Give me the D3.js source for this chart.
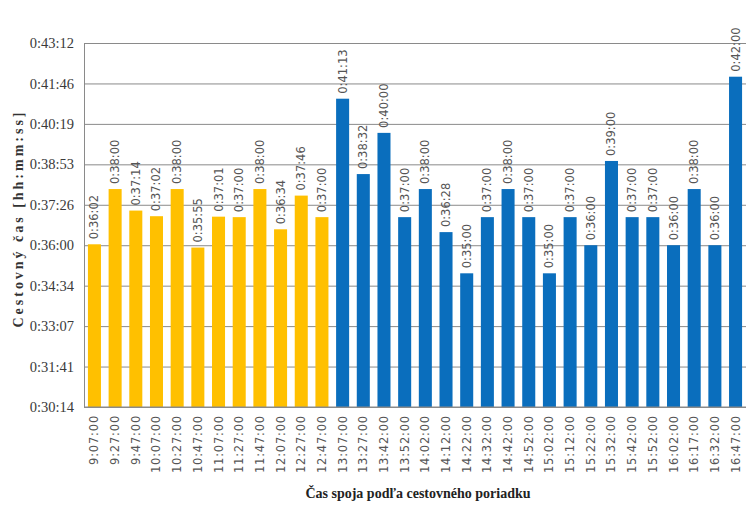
<!DOCTYPE html>
<html>
<head>
<meta charset="utf-8">
<script src="https://cdn.jsdelivr.net/npm/d3@7"></script>
<style>
  body { margin: 0; background: #fff; }
  svg { display: block; }
</style>
</head>
<body>
<div id="chart"></div>
<script>
// departure times (x categories)
const departures = ["9:07:00", "9:27:00", "9:47:00", "10:07:00", "10:27:00", "10:47:00",
    "11:07:00", "11:27:00", "11:47:00", "12:07:00", "12:27:00", "12:47:00",
    "13:07:00", "13:27:00", "13:42:00", "13:52:00", "14:02:00", "14:12:00", "14:22:00",
    "14:32:00", "14:42:00", "14:52:00", "15:02:00", "15:12:00", "15:22:00", "15:32:00",
    "15:42:00", "15:52:00", "16:02:00", "16:17:00", "16:32:00", "16:47:00"];

// travel times (yellow = morning group, blue = afternoon group)
const travelTimes = ["0:36:02", "0:38:00", "0:37:14", "0:37:02", "0:38:00", "0:35:55",
    "0:37:01", "0:37:00", "0:38:00", "0:36:34", "0:37:46", "0:37:00",
    "0:41:13", "0:38:32", "0:40:00", "0:37:00", "0:38:00", "0:36:28", "0:35:00",
    "0:37:00", "0:38:00", "0:37:00", "0:35:00", "0:37:00", "0:36:00", "0:39:00",
    "0:37:00", "0:37:00", "0:36:00", "0:38:00", "0:36:00", "0:42:00"];

const groupSize = 12; // first 12 bars are yellow

// y ticks in fractions of a day (Excel style)
const yTicksDays = [0.021, 0.022, 0.023, 0.024, 0.025, 0.026, 0.027, 0.028, 0.029, 0.030];

const colors = ["#ffc000", "#0a6ebd"];

function toSec(s) {
    let p = s.split(":").map(Number);
    return p[0] * 3600 + p[1] * 60 + p[2];
}
function fmt(sec) {
    let s = Math.round(sec);
    let h = Math.floor(s / 3600), m = Math.floor((s % 3600) / 60), ss = s % 60;
    return h + ":" + String(m).padStart(2, "0") + ":" + String(ss).padStart(2, "0");
}

let data = departures.map(function (d, i) {
    return { dep: d, label: travelTimes[i], value: toSec(travelTimes[i]), group: i < groupSize ? 0 : 1 };
});

let width = 746, height = 516;
let margin = { left: 84, right: 0, top: 43, bottom: 109 };

let svg = d3.select("#chart").append("svg")
    .attr("width", width)
    .attr("height", height);

let x = d3.scaleBand()
    .domain(departures)
    .range([margin.left, width - margin.right])
    .paddingInner(0.37)
    .paddingOuter(0.19);

let y = d3.scaleLinear()
    .domain([yTicksDays[0] * 86400, yTicksDays[yTicksDays.length - 1] * 86400])
    .range([height - margin.bottom, margin.top]);

// grid + left axis
let yAxis = d3.axisLeft(y)
    .tickValues(yTicksDays.map(function (d) { return d * 86400; }))
    .tickSize(-(width - margin.left - margin.right))
    .tickPadding(10)
    .tickFormat(fmt);

let gy = svg.append("g")
    .attr("transform", "translate(" + margin.left + ",0)")
    .call(yAxis);
gy.select(".domain").attr("stroke", "#8a8a8a");
gy.selectAll(".tick line").attr("stroke", "#8a8a8a").attr("stroke-width", 1);
gy.selectAll(".tick text")
    .attr("fill", "#3a3a3a")
    .style("font-family", "'Liberation Serif', 'Times New Roman', serif")
    .style("font-size", "14.5px");

// bars
svg.selectAll(".bar")
    .data(data)
    .enter()
    .append("rect").classed("bar", true)
    .attr("x", function (d) { return x(d.dep); })
    .attr("width", x.bandwidth())
    .attr("y", function (d) { return y(d.value); })
    .attr("height", function (d) { return y.range()[0] - y(d.value); })
    .attr("fill", function (d) { return colors[d.group]; });

// value labels
svg.selectAll(".val")
    .data(data)
    .enter()
    .append("text").classed("val", true)
    .attr("transform", function (d) {
        return "translate(" + (x(d.dep) + x.bandwidth() / 2 + 4) + "," + (y(d.value) - 5) + ") rotate(-90)";
    })
    .attr("fill", "#555")
    .style("font-family", "'DejaVu Sans', Verdana, sans-serif")
    .style("font-size", "11.5px")
    .text(function (d) { return d.label; });

// x axis line
svg.append("line")
    .attr("x1", margin.left).attr("x2", width)
    .attr("y1", y.range()[0]).attr("y2", y.range()[0])
    .attr("stroke", "#8a8a8a");

// x tick labels
svg.selectAll(".xlab")
    .data(departures)
    .enter()
    .append("text").classed("xlab", true)
    .attr("transform", function (d) {
        return "translate(" + (x(d) + x.bandwidth() / 2 + 4) + "," + (y.range()[0] + 8) + ") rotate(-90)";
    })
    .attr("text-anchor", "end")
    .attr("fill", "#555")
    .style("font-family", "'DejaVu Sans', Verdana, sans-serif")
    .style("font-size", "11.5px")
    .style("letter-spacing", "0.8px")
    .text(function (d) { return d; });

// axis titles
svg.append("text")
    .attr("transform", "translate(23,220) rotate(-90)")
    .attr("text-anchor", "middle")
    .attr("fill", "#333")
    .attr("textLength", 215)
    .attr("lengthAdjust", "spacing")
    .style("font-family", "'Liberation Serif', 'Times New Roman', serif")
    .style("font-weight", "bold")
    .style("font-size", "14px")
    .text("Cestovný čas [hh:mm:ss]");

svg.append("text")
    .attr("x", 418)
    .attr("y", 498)
    .attr("text-anchor", "middle")
    .attr("fill", "#222")
    .style("font-family", "'Liberation Serif', 'Times New Roman', serif")
    .style("font-weight", "bold")
    .style("font-size", "14px")
    .text("Čas spoja podľa cestovného poriadku");
</script>
</body>
</html>
